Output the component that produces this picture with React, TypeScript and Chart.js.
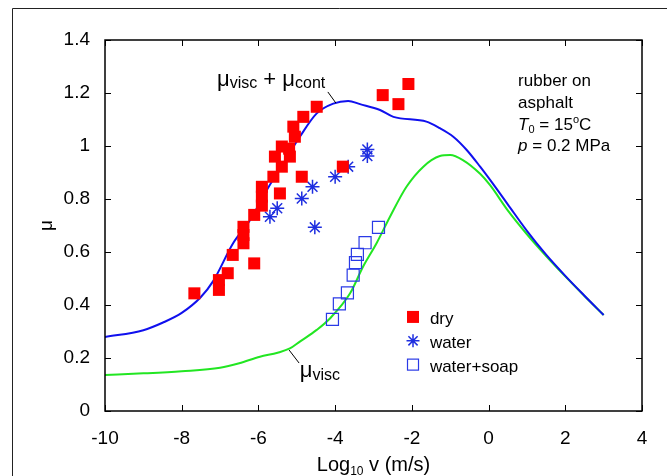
import React, { useEffect, useRef } from 'react';
import { Chart, registerables } from 'chart.js';
Chart.register(...registerables);

const FONT = "'Liberation Sans', Arial, Helvetica, sans-serif";

// ---- data ----
const xTickValues = [-10, -8, -6, -4, -2, 0, 2, 4];
const yTickValues = [0, 0.2, 0.4, 0.6, 0.8, 1.0, 1.2, 1.4];

const dryX = [-7.67, -7.03, -7.03, -6.80, -6.67, -6.39, -6.39, -6.39, -6.11, -6.11, -5.91, -5.91, -5.91, -5.61, -5.44, -5.39, -5.57, -5.18, -5.39, -5.2, -5.05, -5.09, -4.83, -4.48, -4.87, -3.80, -2.76, -2.35, -2.09];
const dryY = [0.444, 0.457, 0.494, 0.52, 0.589, 0.633, 0.664, 0.695, 0.557, 0.74, 0.775, 0.809, 0.846, 0.884, 0.821, 0.922, 0.96, 0.96, 0.998, 0.99, 1.035, 1.073, 1.11, 1.148, 0.884, 0.922, 1.192, 1.158, 1.234];

const waterX = [-5.70, -5.51, -4.87, -4.59, -4.53, -4.0, -3.66, -3.16, -3.16];
const waterY = [0.733, 0.765, 0.802, 0.846, 0.693, 0.884, 0.922, 0.987, 0.962];

const soapX = [-4.07, -3.89, -3.68, -3.53, -3.47, -3.42, -3.22, -2.87];
const soapY = [0.346, 0.404, 0.446, 0.513, 0.56, 0.591, 0.635, 0.693];

const totalX = [-10, -9, -8.5, -8, -7.5, -7.18, -6.66, -6.22, -5.78, -5.35, -4.92, -4.48, -4.05, -3.66, -3.35, -2.83, -2.48, -1.62, -1.27, -0.92, -0.57, -0.22, 0.04, 0.5, 1, 1.5, 2, 2.5, 3];
const totalY = [0.279, 0.305, 0.333, 0.37, 0.43, 0.49, 0.633, 0.72, 0.834, 0.935, 1.035, 1.123, 1.16, 1.17, 1.158, 1.136, 1.11, 1.092, 1.067, 1.035, 0.985, 0.922, 0.872, 0.78, 0.68, 0.59, 0.51, 0.435, 0.362];

const viscX = [-10, -9, -8, -7, -6.5, -5.96, -5.5, -5.18, -4.92, -4.48, -4.13, -3.61, -3.27, -2.92, -2.57, -2.14, -1.70, -1.27, -1.0, -0.67, -0.22, 0.04, 0.5, 1, 1.5, 2, 2.5, 3];
const viscY = [0.136, 0.142, 0.150, 0.163, 0.18, 0.205, 0.22, 0.236, 0.262, 0.306, 0.35, 0.444, 0.545, 0.633, 0.733, 0.846, 0.922, 0.962, 0.966, 0.947, 0.895, 0.852, 0.757, 0.667, 0.585, 0.508, 0.434, 0.362];

const legendLabels = ['dry', 'water', 'water+soap'];
const infoLines = ['rubber on', 'asphalt'];

const RED = '#ff0000';
const STAR_BLUE = '#1e2ee0';
const SOAP_BLUE = '#2a3ae6';
const LINE_BLUE = '#1010ee';
const LINE_GREEN = '#22e622';

const pts = (xs: number[], ys: number[]) => xs.map((x, i) => ({ x, y: ys[i] }));

type Part = { t: string; size: number; dy?: number; italic?: boolean };

function richWidth(ctx: CanvasRenderingContext2D, parts: Part[]) {
  let w = 0;
  for (const p of parts) {
    ctx.font = `${p.italic ? 'italic ' : ''}${p.size}px ${FONT}`;
    w += ctx.measureText(p.t).width;
  }
  return w;
}

function drawRich(ctx: CanvasRenderingContext2D, x: number, y: number, parts: Part[]) {
  ctx.textAlign = 'left';
  ctx.textBaseline = 'alphabetic';
  for (const p of parts) {
    ctx.font = `${p.italic ? 'italic ' : ''}${p.size}px ${FONT}`;
    ctx.fillText(p.t, x, y + (p.dy || 0));
    x += ctx.measureText(p.t).width;
  }
  return x;
}

const overlayPlugin = {
  id: 'overlay',
  afterDraw(chart: any) {
    const ctx: CanvasRenderingContext2D = chart.ctx;
    const { left, right, top, bottom } = chart.chartArea;
    const xs = chart.scales.x;
    const ys = chart.scales.y;
    const X = (v: number) => xs.getPixelForValue(v);
    const Y = (v: number) => ys.getPixelForValue(v);
    ctx.save();

    // frame
    ctx.strokeStyle = '#000';
    ctx.lineWidth = 1.5;
    ctx.strokeRect(left, top, right - left, bottom - top);

    // inward ticks
    ctx.lineWidth = 1;
    ctx.beginPath();
    for (const t of xTickValues) {
      const px = Math.round(X(t)) + 0.5;
      ctx.moveTo(px, bottom); ctx.lineTo(px, bottom - 6);
      ctx.moveTo(px, top); ctx.lineTo(px, top + 6);
    }
    for (const t of yTickValues) {
      const py = Math.round(Y(t)) + 0.5;
      ctx.moveTo(left, py); ctx.lineTo(left + 6, py);
      ctx.moveTo(right, py); ctx.lineTo(right - 6, py);
    }
    ctx.stroke();

    // outer border of the figure
    ctx.lineWidth = 1;
    ctx.strokeStyle = '#222';
    ctx.beginPath();
    ctx.moveTo(12.5, chart.height);
    ctx.lineTo(12.5, 8.5);
    ctx.lineTo(chart.width, 8.5);
    ctx.stroke();

    ctx.fillStyle = '#000';
    ctx.strokeStyle = '#000';

    // curve labels
    drawRich(ctx, X(-7.08), Y(1.228), [
      { t: 'μ', size: 22 },
      { t: 'visc', size: 16, dy: 2 },
      { t: ' + ', size: 22 },
      { t: 'μ', size: 22 },
      { t: 'cont', size: 16, dy: 2 },
    ]);
    ctx.lineWidth = 1;
    ctx.beginPath();
    ctx.moveTo(X(-4.19), Y(1.204));
    ctx.lineTo(X(-3.98), Y(1.162));
    ctx.stroke();

    drawRich(ctx, X(-4.92), Y(0.128), [
      { t: 'μ', size: 22 },
      { t: 'visc', size: 16, dy: 3 },
    ]);
    ctx.beginPath();
    ctx.moveTo(X(-5.20), Y(0.230));
    ctx.lineTo(X(-4.94), Y(0.181));
    ctx.stroke();

    // info text block
    const ix = X(0.77);
    const iy = Y(1.226);
    const lh = 21.7;
    drawRich(ctx, ix, iy, [{ t: infoLines[0], size: 17 }]);
    drawRich(ctx, ix, iy + lh, [{ t: infoLines[1], size: 17 }]);
    drawRich(ctx, ix, iy + 2 * lh, [
      { t: 'T', size: 17, italic: true },
      { t: '0', size: 11, dy: 3 },
      { t: ' = 15', size: 17 },
      { t: 'o', size: 11, dy: -7 },
      { t: 'C', size: 17 },
    ]);
    drawRich(ctx, ix, iy + 3 * lh, [
      { t: 'p', size: 17, italic: true },
      { t: ' = 0.2 MPa', size: 17 },
    ]);

    // legend
    const mx = X(-1.97);
    const tx = X(-1.53);
    const rows = [Y(0.355), Y(0.265), Y(0.175)];
    ctx.fillStyle = RED;
    ctx.fillRect(mx - 6, rows[0] - 6, 12, 12);
    ctx.strokeStyle = STAR_BLUE;
    ctx.lineWidth = 1.5;
    ctx.beginPath();
    const r = 6.5;
    for (let k = 0; k < 4; k++) {
      const a = (k * Math.PI) / 4;
      ctx.moveTo(mx - r * Math.cos(a), rows[1] - r * Math.sin(a));
      ctx.lineTo(mx + r * Math.cos(a), rows[1] + r * Math.sin(a));
    }
    ctx.stroke();
    ctx.strokeStyle = SOAP_BLUE;
    ctx.lineWidth = 1.2;
    ctx.strokeRect(mx - 5.5, rows[2] - 5.5, 11, 11);
    ctx.fillStyle = '#000';
    for (let i = 0; i < 3; i++) {
      drawRich(ctx, tx, rows[i] + 7, [{ t: legendLabels[i], size: 17 }]);
    }

    // x axis title
    const xParts: Part[] = [
      { t: 'Log', size: 20 },
      { t: '10', size: 12, dy: 4 },
      { t: ' v (m/s)', size: 20 },
    ];
    const w = richWidth(ctx, xParts);
    drawRich(ctx, (left + right) / 2 - w / 2, 471, xParts);

    ctx.restore();
  },
};

export default function App() {
  const ref = useRef<HTMLCanvasElement | null>(null);
  useEffect(() => {
    if (!ref.current) return;
    const chart = new Chart(ref.current, {
      type: 'scatter',
      data: {
        datasets: [
          {
            label: 'dry',
            data: pts(dryX, dryY),
            pointStyle: 'rect',
            pointRadius: 8.5,
            backgroundColor: RED,
            borderWidth: 0,
            borderColor: RED,
          },
          {
            label: 'water',
            data: pts(waterX, waterY),
            pointStyle: 'star',
            pointRadius: 7,
            borderColor: STAR_BLUE,
            backgroundColor: STAR_BLUE,
            borderWidth: 1.5,
          },
          {
            label: 'water+soap',
            data: pts(soapX, soapY),
            pointStyle: 'rect',
            pointRadius: 8.5,
            borderColor: SOAP_BLUE,
            backgroundColor: 'rgba(255,255,255,0)',
            borderWidth: 1.2,
          },
          {
            label: 'visc+cont',
            data: pts(totalX, totalY),
            showLine: true,
            pointRadius: 0,
            borderColor: LINE_BLUE,
            borderWidth: 2,
            cubicInterpolationMode: 'monotone',
          },
          {
            label: 'visc',
            data: pts(viscX, viscY),
            showLine: true,
            pointRadius: 0,
            borderColor: LINE_GREEN,
            borderWidth: 2,
            cubicInterpolationMode: 'monotone',
          },
        ],
      },
      options: {
        animation: false,
        responsive: false,
        maintainAspectRatio: false,
        layout: { padding: { top: 40, right: 25, left: 0, bottom: 0 } },
        plugins: {
          legend: { display: false },
          tooltip: { enabled: false },
        },
        scales: {
          x: {
            type: 'linear',
            min: -10,
            max: 4,
            afterBuildTicks: (s: any) => { s.ticks = xTickValues.map((v) => ({ value: v })); },
            ticks: {
              color: '#000',
              font: { family: FONT, size: 19 },
              padding: 16,
              maxRotation: 0,
              callback: (v: any) => String(v),
            },
            grid: { display: false, drawTicks: false },
            border: { display: false },
            afterFit: (s: any) => { s.height = 65; },
          },
          y: {
            type: 'linear',
            min: 0,
            max: 1.4,
            afterBuildTicks: (s: any) => { s.ticks = yTickValues.map((v) => ({ value: v })); },
            ticks: {
              color: '#000',
              font: { family: FONT, size: 19 },
              padding: 15,
              callback: (v: any) => String(Math.round(v * 10) / 10),
            },
            grid: { display: false, drawTicks: false },
            border: { display: false },
            title: {
              display: true,
              text: 'μ',
              color: '#000',
              font: { family: FONT, size: 19 },
              padding: { top: 35, bottom: 0 },
            },
            afterFit: (s: any) => { s.width = 105; },
          },
        },
      },
      plugins: [overlayPlugin],
    } as any);
    return () => chart.destroy();
  }, []);
  return (
    <div style={{ position: 'fixed', left: 0, top: 0, width: 667, height: 476, background: '#fff' }}>
      <canvas ref={ref} width={667} height={476} style={{ display: 'block', width: 667, height: 476 }} />
    </div>
  );
}
